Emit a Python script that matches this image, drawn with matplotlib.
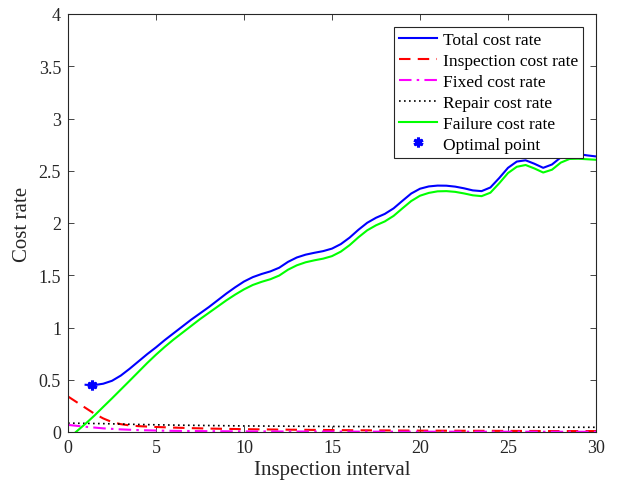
import matplotlib
matplotlib.use("Agg")
import matplotlib.pyplot as plt

plt.rcParams["font.family"] = ["Liberation Serif", "DejaVu Serif"]
plt.rcParams["mathtext.fontset"] = "stix"

# Total cost rate (blue)
total_x = [1.0, 1.36, 1.5, 2.0, 2.5, 3.0, 3.5, 4.0, 4.5, 5.0, 5.5, 6.0, 6.5, 7.0, 7.5,
           8.0, 8.5, 9.0, 9.5, 10.0, 10.5, 11.0, 11.5, 12.0, 12.5, 13.0, 13.5, 14.0,
           14.5, 15.0, 15.5, 16.0, 16.5, 17.0, 17.5, 18.0, 18.5, 19.0, 19.5, 20.0,
           20.5, 21.0, 21.5, 22.0, 22.5, 23.0, 23.5, 24.0, 24.5, 25.0, 25.5, 26.0,
           26.5, 27.0, 27.5, 28.0, 28.5, 29.0, 29.5, 30.0]
total_y = [0.452, 0.448, 0.449, 0.462, 0.490, 0.540, 0.605, 0.675, 0.745, 0.810, 0.880,
           0.945, 1.010, 1.075, 1.135, 1.195, 1.260, 1.325, 1.385, 1.440, 1.482, 1.512,
           1.537, 1.572, 1.628, 1.670, 1.697, 1.715, 1.731, 1.755, 1.798, 1.860, 1.935,
           2.002, 2.050, 2.087, 2.140, 2.212, 2.282, 2.328, 2.350, 2.358, 2.357, 2.348,
           2.332, 2.312, 2.305, 2.340, 2.430, 2.528, 2.588, 2.600, 2.567, 2.528, 2.560,
           2.628, 2.663, 2.660, 2.647, 2.637]

# Inspection cost rate (red dashed)
insp_x = [0, 0.5, 1.0, 1.5, 2.0, 2.5, 3.0, 3.5, 4.0, 5, 6, 7, 8, 9, 10, 12, 14, 16, 18,
          20, 22, 24, 26, 28, 30]
insp_y = [0.340, 0.285, 0.230, 0.175, 0.130, 0.095, 0.075, 0.063, 0.056, 0.048, 0.042,
          0.037, 0.033, 0.030, 0.027, 0.023, 0.020, 0.017, 0.015, 0.013, 0.012, 0.011,
          0.010, 0.009, 0.009]

# Fixed cost rate (magenta dash-dot)
fixed_x = [0, 1, 2, 3, 4, 5, 6, 8, 10, 15, 20, 25, 30]
fixed_y = [0.068, 0.050, 0.035, 0.025, 0.018, 0.014, 0.011, 0.008, 0.006, 0.004, 0.003,
           0.003, 0.002]

# Repair cost rate (black dotted)
repair_x = [0, 2, 4, 6, 8, 10, 15, 20, 25, 30]
repair_y = [0.085, 0.080, 0.072, 0.066, 0.062, 0.058, 0.053, 0.050, 0.047, 0.045]

# Failure cost rate (green)
fail_x = [0.45, 1.0, 1.5, 2.0, 2.5, 3.0, 3.5, 4.0, 4.5, 5.0, 5.5, 6.0, 6.5, 7.0, 7.5,
          8.0, 8.5, 9.0, 9.5, 10.0, 10.5, 11.0, 11.5, 12.0, 12.5, 13.0, 13.5, 14.0,
          14.5, 15.0, 15.5, 16.0, 16.5, 17.0, 17.5, 18.0, 18.5, 19.0, 19.5, 20.0,
          20.5, 21.0, 21.5, 22.0, 22.5, 23.0, 23.5, 24.0, 24.5, 25.0, 25.5, 26.0,
          26.5, 27.0, 27.5, 28.0, 28.5, 29.0, 29.5, 30.0]
fail_y = [0.0, 0.080, 0.157, 0.240, 0.322, 0.406, 0.490, 0.575, 0.660, 0.740, 0.815,
          0.885, 0.950, 1.015, 1.080, 1.140, 1.200, 1.260, 1.315, 1.365, 1.407, 1.437,
          1.462, 1.497, 1.553, 1.595, 1.624, 1.643, 1.659, 1.683, 1.726, 1.788, 1.863,
          1.930, 1.978, 2.015, 2.068, 2.140, 2.210, 2.261, 2.288, 2.303, 2.305, 2.298,
          2.283, 2.265, 2.257, 2.290, 2.380, 2.478, 2.538, 2.555, 2.522, 2.483, 2.510,
          2.578, 2.613, 2.615, 2.610, 2.605]

# Optimal inspection interval
opt_x = [1.36]
opt_y = [0.448]

xticks = [0, 5, 10, 15, 20, 25, 30]
yticks = [0, 0.5, 1, 1.5, 2, 2.5, 3, 3.5, 4]
ytick_labels = ["0", "0.5", "1", "1.5", "2", "2.5", "3", "3.5", "4"]

fig = plt.figure(figsize=(6.22, 4.89), dpi=100)
ax = fig.add_axes([68 / 622, 56 / 489, 528 / 622, 418 / 489])

ax.plot(total_x, total_y, color="#0000ff", lw=1.5, label="Total cost rate")
ax.plot(insp_x, insp_y, color="#ff0000", lw=1.5, ls=(0, (5.5, 3.5)), label="Inspection cost rate")
ax.plot(fixed_x, fixed_y, color="#ff00ff", lw=1.5, ls=(0, (6, 2.5, 1.2, 2.5)), label="Fixed cost rate")
ax.plot(repair_x, repair_y, color="#000000", lw=1.2, ls=(0, (1, 2)), label="Repair cost rate")
ax.plot(fail_x, fail_y, color="#00ff00", lw=1.5, label="Failure cost rate")
ax.plot(opt_x, opt_y, ls="none", marker=(6, 2, 0), ms=7, mew=2.2, color="#0000ff",
        label="Optimal point")

ax.set_xlim(0, 30)
ax.set_ylim(0, 4)
ax.set_xticks(xticks)
ax.set_yticks(yticks)
ax.set_yticklabels(ytick_labels)
ax.tick_params(direction="in", top=True, right=True, length=4, width=0.6,
               labelsize=13, colors="#262626", pad=5)
for s in ax.spines.values():
    s.set_linewidth(0.8)
    s.set_color("#262626")

ax.set_xlabel("Inspection interval", fontsize=15, color="#262626", labelpad=3)
ax.set_ylabel("Cost rate", fontsize=15, color="#262626", labelpad=5)

leg = ax.legend(loc="upper right", bbox_to_anchor=(0.9754, 0.9689), fontsize=12.5,
                frameon=True, fancybox=False, framealpha=1, edgecolor="#262626",
                borderpad=0.3, labelspacing=0.27, handlelength=2.2, handletextpad=0.3,
                borderaxespad=0)
leg.get_frame().set_linewidth(0.8)

fig.savefig("out.png", dpi=100)
